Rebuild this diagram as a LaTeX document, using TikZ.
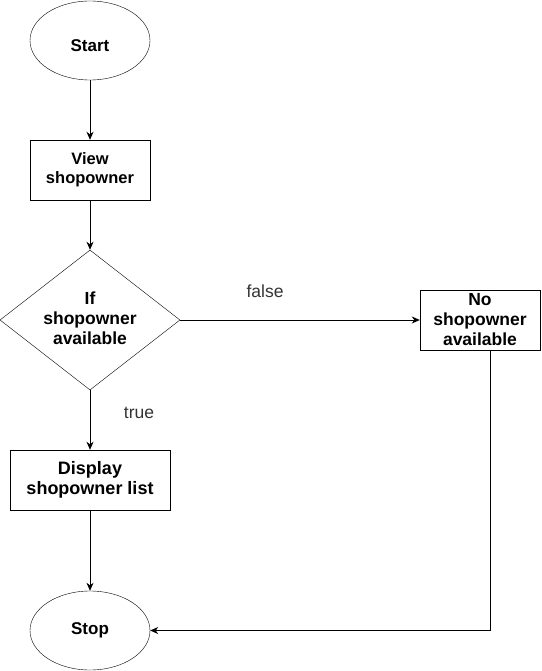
\documentclass[tikz,border=0pt]{standalone}
\usepackage{fontspec}
\setmainfont{Liberation Sans}
\usetikzlibrary{shapes.geometric,arrows.meta}
\begin{document}
\begin{tikzpicture}[x=1pt,y=-1pt,
  every node/.style={font=\fontsize{17.5}{20}\selectfont\bfseries, align=center, inner sep=0pt},
  term/.style={draw, ellipse, minimum width=120pt, minimum height=79pt},
  proc/.style={draw, rectangle, minimum width=120pt, minimum height=60pt},
  dec/.style={draw, diamond, minimum width=180pt, minimum height=140pt, aspect=1.2857},
  lab/.style={font=\fontsize{17.5}{20}\selectfont, text=black!80},
  conn/.style={line width=0.9pt, -{Stealth[length=8pt,width=7pt,inset=2.5pt]}}
]
\useasboundingbox (0,0) rectangle (541,671);
\node[term, font=\fontsize{17}{20}\selectfont\bfseries] (start) at (90,40.5) {\raisebox{-5pt}[\height][\depth]{Start}};
\node[proc, font=\fontsize{16.5}{19}\selectfont\bfseries] (view) at (90,170) {View\\shopowner};
\node[dec] (if) at (90,320) {\raisebox{2pt}[\height][\depth]{If}\\\raisebox{2pt}[\height][\depth]{shopowner}\\\raisebox{2pt}[\height][\depth]{available}};
\node[proc] (no) at (480,320) {No\\shopowner\\available};
\node[proc, minimum width=160pt, font=\fontsize{18}{20}\selectfont\bfseries] (disp) at (90,480) {Display\\shopowner list};
\node[term, font=\fontsize{17}{20}\selectfont\bfseries] (stop) at (90,630.5) {Stop};

\draw[conn] (start) -- (view);
\draw[conn] (view) -- (if);
\draw[conn] (if) -- node[lab, pos=0.354, yshift=29pt] (lfalse) {false} (no);
\draw[conn] (if) -- node[lab, pos=0.383, xshift=49pt] (ltrue) {true} (disp);
\draw[conn] (disp) -- (stop);
\draw[conn] ([xshift=10pt]no.south) |- (stop.east);
\end{tikzpicture}
\end{document}
